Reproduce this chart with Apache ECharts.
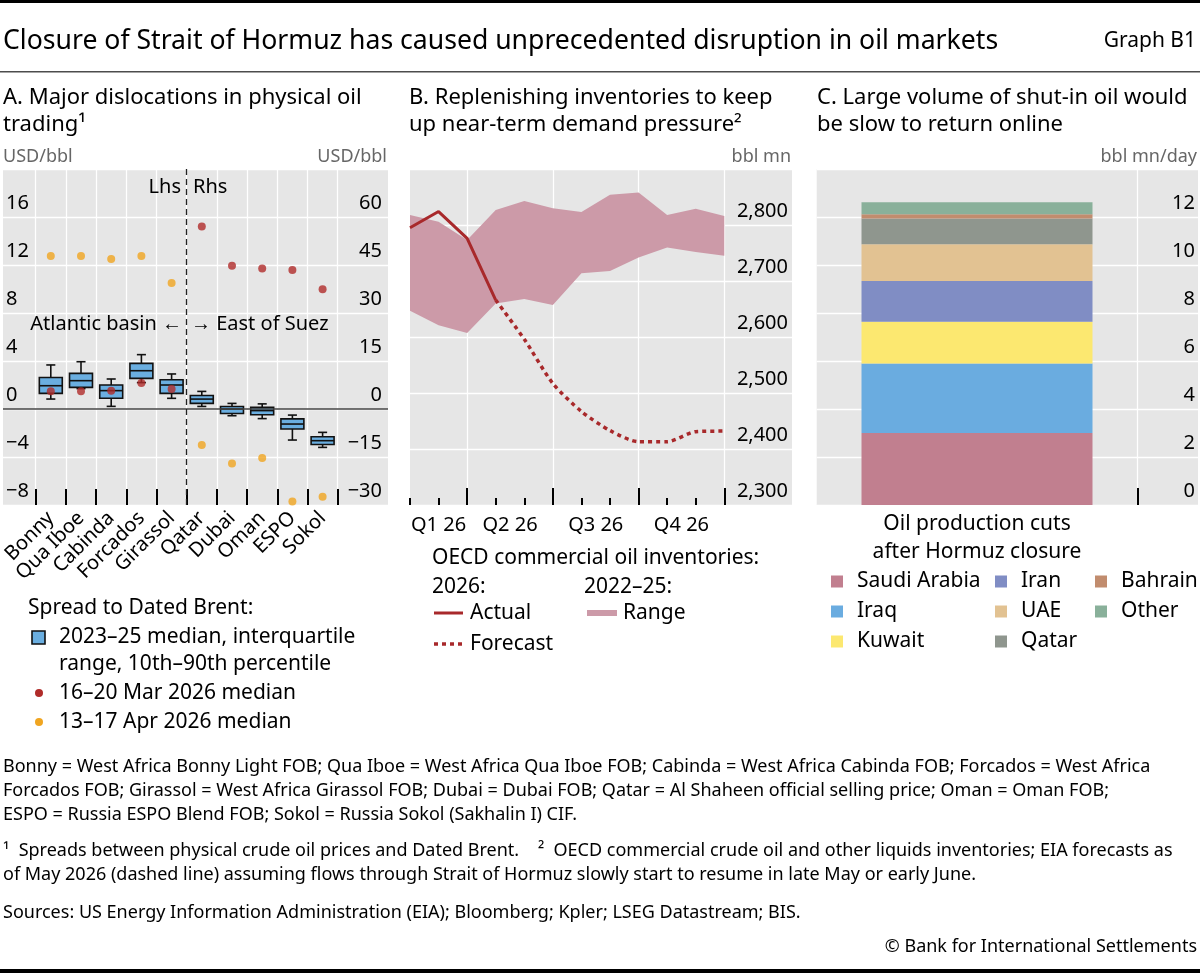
<!DOCTYPE html>
<html><head><meta charset="utf-8">
<script src="https://cdn.jsdelivr.net/npm/echarts@6/dist/echarts.min.js"></script>
<style>html,body{margin:0;padding:0;background:#fff}#c{width:1200px;height:973px}</style>
</head><body><div id="c"></div>
<script>
// ---------- Panel A data ----------
const crudeNames = ['Bonny','Qua Iboe','Cabinda','Forcados','Girassol','Qatar','Dubai','Oman','ESPO','Sokol'];
const rhsFrom = 5; // East-of-Suez crudes (index >= 5) are read on the right-hand scale
const spreadP10 = [0.83, 1.7, 0.22, 2.2, 0.89, 0.8, -2.1, -3.0, -9.7, -12.0];
const spreadQ1  = [1.3, 1.8, 0.89, 2.55, 1.3, 1.75, -1.4, -1.8, -6.25, -11.1];
const spreadMed = [1.94, 2.36, 1.53, 3.19, 2.0, 3.1, 0.0, -0.5, -4.7, -9.9];
const spreadQ3  = [2.63, 2.97, 2.0, 3.8, 2.44, 4.2, 0.8, 0.5, -3.1, -8.65];
const spreadP90 = [3.67, 3.94, 2.5, 4.53, 2.92, 5.5, 1.75, 1.6, -1.9, -7.3];
const medMar2026 = [1.47, 1.47, 1.53, 2.17, 1.67, 57.0, 44.8, 43.9, 43.4, 37.4];
const medApr2026 = [12.75, 12.75, 12.5, 12.75, 10.5, -11.25, -17.0, -15.3, -28.9, -27.4];

// ---------- Panel B data ----------
const months = ['Jan','Feb','Mar','Apr','May','Jun','Jul','Aug','Sep','Oct','Nov','Dec'];
const actual2026   = [2795, 2824, 2776, 2666, null, null, null, null, null, null, null, null];
const forecast2026 = [null, null, null, 2666, 2596, 2517, 2467, 2433, 2413, 2413, 2431, 2432];
const range2225Low  = [2647, 2621, 2607, 2660, 2668, 2657, 2714, 2718, 2742, 2760, 2752, 2745];
const range2225High = [2818, 2806, 2773, 2827, 2843, 2830, 2823, 2854, 2858, 2818, 2829, 2816];
const quarterLabels = ['Q1 26','Q2 26','Q3 26','Q4 26'];
const quarterLabelAt = [1, 3.5, 6.5, 9.5];
const quarterEnds = [2, 5, 8, 11];

// ---------- Panel C data ----------
const cutsCategory = ['Oil production cuts\nafter Hormuz closure'];
const producers = ['Saudi Arabia','Iraq','Kuwait','Iran','UAE','Qatar','Bahrain','Other'];
const productionCuts = [3.0, 2.9, 1.74, 1.69, 1.53, 1.08, 0.17, 0.5];

// ---------- styles ----------
const producerColors = ['#c17f8f','#6aace0','#fce870','#808dc4','#e2c292','#8f968e','#c18c6e','#89b09a'];
const FONT = '"Noto Sans", "Open Sans", sans-serif';
const BG = '#e6e6e6';
const RED = '#b02c2a';
const ORANGE = '#f0a520';
const BOXBLUE = '#6aaee0';
const LINERED = '#a8292b';
const PINK = '#cc9aa8';

const fmtNum = v => (v < 0 ? '\u2212' + Math.abs(v) : String(v));
const fmtThousands = v => String(v).replace(/\B(?=(\d{3})+(?!\d))/g, ',');

const chart = echarts.init(document.getElementById('c'));

const TOP = 169, BOTTOM_Y = 505, H = BOTTOM_Y - TOP;

function bgGrid(left, width) {
  return {left, top: TOP, width, height: H, show: true, backgroundColor: BG, borderWidth: 0, z: -1, outerBoundsMode: 'none', containLabel: false};
}
function dataGrid(left, width) {
  return {left, top: TOP, width, height: H, show: false, outerBoundsMode: 'none', containLabel: false};
}
const tickLabel = (extra) => Object.assign({fontFamily: FONT, fontSize: 20, color: '#000'}, extra || {});
const hiddenX = (gi, min, max) => ({type: 'value', gridIndex: gi, min, max, show: false});
const splitWhite = {show: true, lineStyle: {color: '#fff', width: 1.3}};

function bgYAxis(gi, pos, min, max, interval, split, fmt, margin) {
  return {
    type: 'value', gridIndex: gi, position: pos, min, max, interval,
    axisLine: {show: false}, axisTick: {show: false},
    splitLine: split ? splitWhite : {show: false},
    axisLabel: tickLabel({inside: true, showMaxLabel: false, verticalAlign: 'bottom', lineHeight: 20, padding: [0, 0, 4, 0], margin, formatter: fmt})
  };
}
const hiddenY = (gi, min, max) => ({type: 'value', gridIndex: gi, min, max, show: false});

// grids: 0 A bg, 1 A data, 2 B bg, 3 B data, 4 C bg, 5 C data
const grids = [
  bgGrid(3, 385), dataGrid(35.7, 302),
  bgGrid(410, 382), dataGrid(410, 314.3),
  bgGrid(816.7, 381.3), dataGrid(816.7, 320.6)
];

const xAxes = [
  hiddenX(0, 0, 1),                                  // 0 A bg
  {                                                  // 1 A categories
    type: 'category', gridIndex: 1, position: 'bottom', data: crudeNames, boundaryGap: true,
    axisLine: {show: false, onZero: false},
    axisTick: {show: true, inside: true, length: 16, interval: 0, lineStyle: {color: '#000', width: 2}},
    splitLine: {show: true, interval: 0, lineStyle: {color: '#fff', width: 1.3}},
    axisLabel: tickLabel({interval: 0, rotate: 45, margin: 10})
  },
  hiddenX(1, 0, crudeNames.length),                  // 2 A value helper (for Lhs/Rhs divider)
  hiddenX(2, 0, 1),                                  // 3 B bg
  {                                                  // 4 B months
    type: 'category', gridIndex: 3, position: 'bottom', data: months, boundaryGap: false,
    axisLine: {show: false, onZero: false},
    axisTick: {show: true, inside: true, length: 7, interval: 0, lineStyle: {color: '#000', width: 2}},
    axisLabel: {show: false}, splitLine: {show: false}
  },
  {                                                  // 5 B quarters
    type: 'value', gridIndex: 3, position: 'bottom', min: 0, max: months.length - 1,
    axisLine: {show: false, onZero: false},
    axisTick: {show: true, inside: true, length: 17, customValues: quarterEnds, lineStyle: {color: '#000', width: 2}},
    splitLine: splitWhite,
    axisLabel: tickLabel({customValues: quarterLabelAt, margin: 10, formatter: v => quarterLabels[quarterLabelAt.indexOf(v)] || ''})
  },
  hiddenX(4, 0, 1),                                  // 6 C bg
  {                                                  // 7 C category
    type: 'category', gridIndex: 5, position: 'bottom', data: cutsCategory,
    axisLine: {show: false, onZero: false}, axisTick: {show: false}, splitLine: {show: false},
    axisLabel: tickLabel({fontSize: 21, lineHeight: 28, margin: 5})
  },
  {                                                  // 8 C tick helper
    type: 'value', gridIndex: 5, position: 'bottom', min: 0, max: 1,
    axisLine: {show: false, onZero: false},
    axisTick: {show: true, inside: true, length: 17, customValues: [1], lineStyle: {color: '#000', width: 2}},
    splitLine: splitWhite, axisLabel: {show: false}
  }
];

const yAxes = [
  bgYAxis(0, 'left', -8, 20, 4, true, fmtNum, 3),      // 0 A bg lhs
  bgYAxis(0, 'right', -30, 75, 15, false, fmtNum, 6),  // 1 A bg rhs
  hiddenY(1, -8, 20),                                  // 2 A lhs
  hiddenY(1, -30, 75),                                 // 3 A rhs
  bgYAxis(2, 'right', 2300, 2900, 100, true, fmtThousands, 4), // 4 B bg
  hiddenY(3, 2300, 2900),                              // 5 B
  bgYAxis(4, 'right', 0, 14, 2, true, fmtNum, 3),      // 6 C bg
  hiddenY(5, 0, 14)                                    // 7 C
];

function boxItem(params, api) {
  const x = api.value(0);
  const pLow = api.coord([x, api.value(1)]);
  const pQ1 = api.coord([x, api.value(2)]);
  const pMed = api.coord([x, api.value(3)]);
  const pQ3 = api.coord([x, api.value(4)]);
  const pHigh = api.coord([x, api.value(5)]);
  const band = api.size([1, 0])[0];
  const w = band * 0.76, cap = band * 0.3, cx = pMed[0];
  const ls = {stroke: '#111', lineWidth: 1.6};
  return {type: 'group', children: [
    {type: 'line', shape: {x1: cx, y1: pHigh[1], x2: cx, y2: pQ3[1]}, style: ls},
    {type: 'line', shape: {x1: cx - cap / 2, y1: pHigh[1], x2: cx + cap / 2, y2: pHigh[1]}, style: ls},
    {type: 'line', shape: {x1: cx, y1: pLow[1], x2: cx, y2: pQ1[1]}, style: ls},
    {type: 'line', shape: {x1: cx - cap / 2, y1: pLow[1], x2: cx + cap / 2, y2: pLow[1]}, style: ls},
    {type: 'rect', shape: {x: cx - w / 2, y: pQ3[1], width: w, height: pQ1[1] - pQ3[1]}, style: {fill: BOXBLUE, stroke: '#111', lineWidth: 1.6}},
    {type: 'line', shape: {x1: cx - w / 2, y1: pMed[1], x2: cx + w / 2, y2: pMed[1]}, style: ls}
  ]};
}
const boxRows = crudeNames.map((n, i) => [i, spreadP10[i], spreadQ1[i], spreadMed[i], spreadQ3[i], spreadP90[i]]);
const onLhs = (row) => row[0] < rhsFrom;

const series = [
  // zero line A
  {type: 'line', xAxisIndex: 0, yAxisIndex: 0, data: [[0, 0]], symbol: 'none', silent: true,
   markLine: {silent: true, symbol: 'none', label: {show: false}, lineStyle: {color: '#444', width: 1.5, type: 'solid'}, data: [{yAxis: 0}]}},
  // Lhs / Rhs divider
  {type: 'line', xAxisIndex: 2, yAxisIndex: 2, data: [[rhsFrom, -8]], symbol: 'none', silent: true,
   markLine: {silent: true, symbol: 'none', label: {show: false}, lineStyle: {color: '#222', width: 1.3, type: [6, 4]}, data: [{xAxis: rhsFrom}]}},
  {type: 'custom', name: 'box lhs', xAxisIndex: 1, yAxisIndex: 2, renderItem: boxItem, data: boxRows.filter(onLhs), z: 3},
  {type: 'custom', name: 'box rhs', xAxisIndex: 1, yAxisIndex: 3, renderItem: boxItem, data: boxRows.filter(r => !onLhs(r)), z: 3},
  {type: 'scatter', name: 'Mar lhs', xAxisIndex: 1, yAxisIndex: 2, symbolSize: 8, itemStyle: {color: RED}, z: 4,
   data: medMar2026.map((v, i) => [i, v]).filter(r => r[0] < rhsFrom)},
  {type: 'scatter', name: 'Mar rhs', xAxisIndex: 1, yAxisIndex: 3, symbolSize: 8, itemStyle: {color: RED}, z: 4,
   data: medMar2026.map((v, i) => [i, v]).filter(r => r[0] >= rhsFrom)},
  {type: 'scatter', name: 'Apr lhs', xAxisIndex: 1, yAxisIndex: 2, symbolSize: 8, itemStyle: {color: ORANGE}, z: 4,
   data: medApr2026.map((v, i) => [i, v]).filter(r => r[0] < rhsFrom)},
  {type: 'scatter', name: 'Apr rhs', xAxisIndex: 1, yAxisIndex: 3, symbolSize: 8, itemStyle: {color: ORANGE}, z: 4,
   data: medApr2026.map((v, i) => [i, v]).filter(r => r[0] >= rhsFrom)},
  // Panel B range band
  {type: 'custom', name: 'Range', xAxisIndex: 4, yAxisIndex: 5, z: 2, data: [0],
   renderItem: (params, api) => {
     const pts = [];
     range2225High.forEach((v, i) => pts.push(api.coord([i, v])));
     for (let i = range2225Low.length - 1; i >= 0; i--) pts.push(api.coord([i, range2225Low[i]]));
     return {type: 'polygon', shape: {points: pts}, style: {fill: PINK}};
   }},
  {type: 'line', name: 'Actual', xAxisIndex: 4, yAxisIndex: 5, data: actual2026, symbol: 'none', z: 4,
   lineStyle: {color: LINERED, width: 3}},
  {type: 'line', name: 'Forecast', xAxisIndex: 4, yAxisIndex: 5, data: forecast2026, symbol: 'none', z: 4, smooth: 0.25,
   lineStyle: {color: LINERED, width: 3.5, type: [4, 4]}}
];
producers.forEach((p, i) => series.push({
  type: 'bar', name: p, stack: 'cuts', xAxisIndex: 7, yAxisIndex: 7, barWidth: 231,
  itemStyle: {color: producerColors[i]}, data: [productionCuts[i]], z: 3
}));

function legendC(names, left) {
  return {data: names, left, top: 571, orient: 'vertical', itemWidth: 12, itemHeight: 12, itemGap: 9, padding: 0,
    icon: 'rect', selectedMode: false,
    textStyle: {fontFamily: FONT, fontSize: 21, lineHeight: 21, color: '#000', padding: [0, 0, 0, 9]}};
}

function T(x, y, text, size, o) {
  o = o || {};
  return {type: 'text', x, y, silent: true, z: 10,
    style: {text, fill: o.color || '#000', font: size + 'px ' + FONT, align: o.align || 'left', verticalAlign: 'middle'}};
}
const g = [
  {type: 'rect', shape: {x: 0, y: 0, width: 1200, height: 3}, style: {fill: '#000'}, silent: true},
  T(3, 41, 'Closure of Strait of Hormuz has caused unprecedented disruption in oil markets', 26.6),
  T(1196, 41, 'Graph B1', 21, {align: 'right'}),
  {type: 'rect', shape: {x: 0, y: 71, width: 1200, height: 1.5}, style: {fill: '#4d4d4d'}, silent: true},
  T(3, 98, 'A. Major dislocations in physical oil', 22),
  T(3, 125, 'trading\u00b9', 22),
  T(409, 98, 'B. Replenishing inventories to keep', 22),
  T(409, 125, 'up near-term demand pressure\u00b2', 22),
  T(817, 98, 'C. Large volume of shut-in oil would', 22),
  T(817, 125, 'be slow to return online', 22),
  T(3, 157, 'USD/bbl', 18, {color: '#666'}),
  T(387, 157, 'USD/bbl', 18, {color: '#666', align: 'right'}),
  T(791, 157, 'bbl mn', 18, {color: '#666', align: 'right'}),
  T(1197, 157, 'bbl mn/day', 18, {color: '#666', align: 'right'}),
  // Panel A annotations
  T(181, 187, 'Lhs', 20, {align: 'right'}),
  T(193, 187, 'Rhs', 20),
  T(182, 324, 'Atlantic basin \u2190', 20, {align: 'right'}),
  T(191, 324, '\u2192 East of Suez', 20),
  // Panel A legend
  T(28, 608, 'Spread to Dated Brent:', 21),
  {type: 'rect', shape: {x: 32, y: 631, width: 13, height: 13}, style: {fill: BOXBLUE, stroke: '#111', lineWidth: 1.6}, silent: true},
  T(59, 637, '2023\u201325 median, interquartile', 21),
  T(59, 664, 'range, 10th\u201390th percentile', 21),
  {type: 'circle', shape: {cx: 39, cy: 693, r: 4}, style: {fill: RED}, silent: true},
  T(59, 693, '16\u201320 Mar 2026 median', 21),
  {type: 'circle', shape: {cx: 39, cy: 722, r: 4}, style: {fill: ORANGE}, silent: true},
  T(59, 722, '13\u201317 Apr 2026 median', 21),
  // Panel B legend
  T(432, 558, 'OECD commercial oil inventories:', 21),
  T(432, 587, '2026:', 21),
  T(584, 587, '2022\u201325:', 21),
  {type: 'line', shape: {x1: 434, y1: 613, x2: 463, y2: 613}, style: {stroke: LINERED, lineWidth: 3}, silent: true},
  T(470, 613, 'Actual', 21),
  {type: 'line', shape: {x1: 587, y1: 613, x2: 617, y2: 613}, style: {stroke: PINK, lineWidth: 6}, silent: true},
  T(623, 613, 'Range', 21),
  {type: 'line', shape: {x1: 434, y1: 644, x2: 463, y2: 644}, style: {stroke: LINERED, lineWidth: 3.5, lineDash: [4, 4]}, silent: true},
  T(470, 644, 'Forecast', 21),
  // Footnotes
  T(3, 767, 'Bonny = West Africa Bonny Light FOB; Qua Iboe = West Africa Qua Iboe FOB; Cabinda = West Africa Cabinda FOB; Forcados = West Africa', 18),
  T(3, 791, 'Forcados FOB; Girassol = West Africa Girassol FOB; Dubai = Dubai FOB; Qatar = Al Shaheen official selling price; Oman = Oman FOB;', 18),
  T(3, 815, 'ESPO = Russia ESPO Blend FOB; Sokol = Russia Sokol (Sakhalin I) CIF.', 18),
  T(3, 851, '\u00b9  Spreads between physical crude oil prices and Dated Brent.    \u00b2  OECD commercial crude oil and other liquids inventories; EIA forecasts as', 18),
  T(3, 875, 'of May 2026 (dashed line) assuming flows through Strait of Hormuz slowly start to resume in late May or early June.', 18),
  T(3, 913, 'Sources: US Energy Information Administration (EIA); Bloomberg; Kpler; LSEG Datastream; BIS.', 18),
  T(1197, 947, '\u00a9 Bank for International Settlements', 18, {align: 'right'}),
  {type: 'rect', shape: {x: 0, y: 969, width: 1200, height: 4}, style: {fill: '#000'}, silent: true}
];

chart.setOption({
  animation: false,
  textStyle: {fontFamily: FONT},
  grid: grids, xAxis: xAxes, yAxis: yAxes, series,
  legend: [
    legendC(['Saudi Arabia','Iraq','Kuwait'], 831),
    legendC(['Iran','UAE','Qatar'], 995),
    legendC(['Bahrain','Other'], 1095)
  ],
  graphic: g
});
</script></body></html>
